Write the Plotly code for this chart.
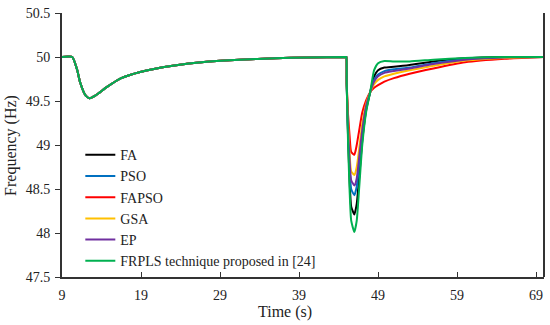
import plotly.graph_objects as go

# ---- data ----
series_names = ["FA", "PSO", "FAPSO", "GSA", "EP", "FRPLS technique proposed in [24]"]
series_colors = ["#000000", "#0070C0", "#FF0000", "#FFC000", "#7030A0", "#00B050"]

# first disturbance (all methods identical)
t_first = [9, 10.3, 10.9, 11.3, 12.0, 12.5, 13.2, 14.7, 16.5, 18.9, 23, 27.3, 31.5, 36, 40, 44.97]
f_first = [50, 50, 49.86, 49.71, 49.56, 49.53, 49.56, 49.66, 49.76, 49.83, 49.90, 49.946, 49.97, 49.985, 49.995, 50.0]

# second disturbance
t_second = [45, 45.03, 45.2, 45.4, 45.6, 46.0, 46.3, 46.6, 47.0, 47.5, 48.0, 48.5, 49.0, 49.8, 51, 53, 56, 60, 65, 70]
fa_second = [50, 49.7, 49.1, 48.6, 48.3, 48.21, 48.33, 48.62, 49.05, 49.4, 49.6, 49.78, 49.85, 49.88, 49.89, 49.91, 49.95, 49.985, 50.0, 50.0]
pso_second = [50, 49.7, 49.15, 48.75, 48.5, 48.43, 48.53, 48.78, 49.12, 49.43, 49.6, 49.74, 49.8, 49.84, 49.86, 49.88, 49.93, 49.975, 49.995, 50.0]
fapso_second = [50, 49.7, 49.35, 49.1, 48.92, 48.89, 49.0, 49.16, 49.37, 49.51, 49.6, 49.65, 49.68, 49.72, 49.76, 49.81, 49.87, 49.94, 49.98, 50.0]
gsa_second = [50, 49.7, 49.25, 48.9, 48.7, 48.66, 48.75, 48.95, 49.24, 49.47, 49.6, 49.69, 49.74, 49.78, 49.81, 49.85, 49.9, 49.96, 49.99, 50.0]
ep_second = [50, 49.7, 49.2, 48.82, 48.6, 48.54, 48.62, 48.85, 49.17, 49.45, 49.6, 49.72, 49.78, 49.82, 49.84, 49.87, 49.92, 49.97, 49.995, 50.0]
frpls_second = [50, 49.7, 49.04, 48.48, 48.14, 48.01, 48.14, 48.5, 49.0, 49.38, 49.6, 49.85, 49.93, 49.955, 49.95, 49.95, 49.97, 49.99, 50.0, 50.0]

x_ticks = [9, 19, 29, 39, 49, 59, 69]

seconds = [fa_second, pso_second, fapso_second, gsa_second, ep_second, frpls_second]
time = t_first + t_second

fig = go.Figure()
for name, color, sec in zip(series_names, series_colors, seconds):
    fig.add_trace(go.Scatter(
        x=time, y=f_first + sec, mode="lines", name=name,
        line=dict(color=color, width=2, shape="spline", smoothing=0.5),
    ))

font_family = "Liberation Serif"
axis_color = "#333333"

fig.update_layout(
    width=550, height=325,
    margin=dict(l=62, r=6, t=10, b=48),
    paper_bgcolor="white", plot_bgcolor="white",
    font=dict(family=font_family, size=14, color="#222222"),
    showlegend=True,
    legend=dict(x=0.038, y=0.522, xanchor="left", yanchor="top",
                bgcolor="rgba(0,0,0,0)", font=dict(size=14, family=font_family),
                tracegroupgap=0, itemwidth=30),
    xaxis=dict(range=[9, 70], tickvals=x_ticks, ticks="inside", ticklen=5,
               tickcolor=axis_color, showline=True, linecolor=axis_color, linewidth=2,
               showgrid=False, zeroline=False, tickfont=dict(size=14),
               ticklabelstandoff=4),
    yaxis=dict(range=[47.5, 50.5], dtick=0.5, tick0=47.5, ticks="outside", ticklen=5,
               tickcolor=axis_color, showline=True, linecolor=axis_color, linewidth=2,
               showgrid=False, zeroline=False, tickfont=dict(size=14),
               ticklabelstandoff=2),
    shapes=[dict(type="line", xref="paper", yref="paper", x0=1, x1=1, y0=0, y1=1,
                 line=dict(color=axis_color, width=2))],
    annotations=[
        dict(text="Time (s)", xref="paper", yref="paper", x=0.4627, y=-0.131,
             xanchor="center", yanchor="middle", showarrow=False,
             font=dict(size=16, family=font_family)),
        dict(text="Frequency (Hz)", xref="paper", yref="paper", x=-0.106, y=0.5,
             xanchor="center", yanchor="middle", showarrow=False, textangle=-90,
             font=dict(size=16, family=font_family)),
    ],
)

fig.write_html("out.html", config={"displayModeBar": False},
               post_script="document.body.style.margin='0';")
